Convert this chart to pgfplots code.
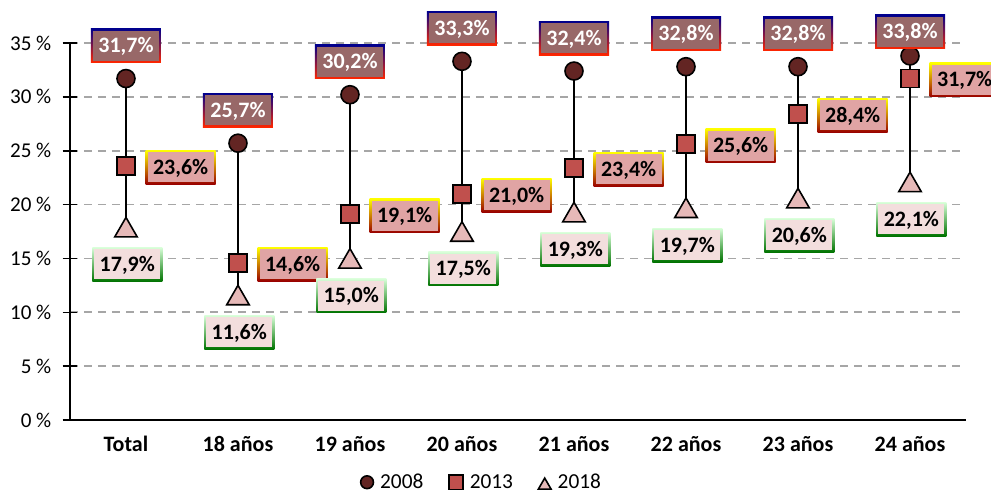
\documentclass[border=0pt]{standalone}
\usepackage{pgfplots}
\pgfplotsset{compat=1.18}
\usepackage{pgfplotstable}
\usepackage{fontspec}
\setmainfont{Carlito}

\definecolor{c08}{RGB}{99,37,35}
\definecolor{c13}{RGB}{192,80,77}
\definecolor{c18}{RGB}{230,185,184}
\definecolor{f08}{RGB}{152,104,104}
\definecolor{f13}{RGB}{224,164,164}
\definecolor{f18}{RGB}{243,222,221}
\definecolor{gridgray}{RGB}{166,166,166}

% label box: shaded frame (top, bottom colour), inner fill comes from the text box
\tikzset{labelbox/.style 2 args={
  inner sep=1.5pt, top color=#1, bottom color=#2, draw=none,
  font=\fontsize{16.5}{18}\selectfont\bfseries}}
\newcommand\lbl[2]{{\setlength\fboxsep{0pt}\colorbox{#1}{\makebox[49.5pt]{\rule[-6pt]{0pt}{22.5pt}#2\%}}}}

% x, values and labels per year; d08 = lift of the 2008 label (pt)
\pgfplotstableread{
x y08 l08 d08   y13 l13  y18 l18
0 31.7 31,7 24.75 23.6 23,6 17.9 17,9
1 25.7 25,7 24.75 14.6 14,6 11.6 11,6
2 30.2 30,2 24.75 19.1 19,1 15.0 15,0
3 33.3 33,3 24.75 21.0 21,0 17.5 17,5
4 32.4 32,4 24.75 23.4 23,4 19.3 19,3
5 32.8 32,8 24.75 25.6 25,6 19.7 19,7
6 32.8 32,8 24.75 28.4 28,4 20.6 20,6
7 33.8 33,8 18.0  31.7 31,7 22.1 22,1
}\data

\begin{document}
\begin{tikzpicture}
\begin{axis}[
  scale only axis,
  width=672pt, height=282.75pt,
  xmin=-0.5, xmax=7.5, ymin=0, ymax=35,
  axis x line*=bottom, axis y line*=left,
  axis line style={line width=1.2pt, -},
  xtick={0,...,7},
  xticklabels={Total, 18 años, 19 años, 20 años, 21 años, 22 años, 23 años, 24 años},
  xtick style={draw=none},
  ytick={0,5,...,35},
  yticklabel={\pgfmathprintnumber{\tick}~\%},
  tick align=center, major tick length=11pt,
  ytick style={line width=1.2pt, black},
  ymajorgrids,
  grid style={gridgray, line width=1.3pt, dash pattern=on 6pt off 4.5pt},
  clip=false,
  /pgf/number format/assume math mode=true,
  yticklabel style={font=\fontsize{15.8}{18}\selectfont, xshift=-5pt},
  xticklabel style={font=\fontsize{16.5}{18}\selectfont\bfseries, yshift=-3pt},
  legend style={at={(0.46,-0.165)}, anchor=center, draw=none,
    font=\fontsize{16}{18}\selectfont,
    /tikz/every odd column/.append style={column sep=3pt},
    /tikz/every even column/.append style={column sep=17pt}},
  legend columns=3,
]
% high-low lines
\addplot[black, line width=1.5pt, forget plot, unbounded coords=jump] coordinates {
  (0,31.7)(0,17.9)(0,nan)
  (1,25.7)(1,11.6)(1,nan)
  (2,30.2)(2,15.0)(2,nan)
  (3,33.3)(3,17.5)(3,nan)
  (4,32.4)(4,19.3)(4,nan)
  (5,32.8)(5,19.7)(5,nan)
  (6,32.8)(6,20.6)(6,nan)
  (7,33.8)(7,22.1)};

\addplot[only marks, mark=*, mark size=6.75pt,
  mark options={draw=black, fill=c08, line width=1.2pt},
  legend image post style={mark size=4.8pt},
  point meta=explicit symbolic,
  nodes near coords={\lbl{f08}{\pgfplotspointmeta}},
  nodes near coords align={anchor=center},
  visualization depends on={\thisrow{d08} \as \dy},
  every node near coord/.append style={labelbox={blue!55!black}{red!70!orange}, text=white, yshift=\dy pt}]
  table[x=x, y=y08, meta=l08] {\data};
\addlegendentry{2008}

\addplot[only marks, mark=square*, mark size=6.75pt,
  mark options={draw=black, fill=c13, line width=1.2pt},
  legend image post style={mark size=5.4pt},
  point meta=explicit symbolic,
  nodes near coords={\lbl{f13}{\pgfplotspointmeta}},
  nodes near coords align={anchor=center},
  every node near coord/.append style={labelbox={yellow}{red!60!black}, text=black, xshift=41pt, yshift=-1pt}]
  table[x=x, y=y13, meta=l13] {\data};
\addlegendentry{2013}

\addplot[only marks, mark=triangle*, mark size=9.75pt,
  mark options={draw=black, fill=c18, line width=1.2pt, yshift=-2.4pt},
  legend image post style={mark size=5.5pt},
  point meta=explicit symbolic,
  nodes near coords={\lbl{f18}{\pgfplotspointmeta}},
  nodes near coords align={anchor=center},
  every node near coord/.append style={labelbox={green!15!white}{green!45!black}, text=black, xshift=1pt, yshift=-25.5pt}]
  table[x=x, y=y18, meta=l18] {\data};
\addlegendentry{2018}

\coordinate (bbsw) at (rel axis cs:-0.0781,-0.191);
\coordinate (bbne) at (rel axis cs:1.0279,1.1141);
\end{axis}
\pgfresetboundingbox
\path[use as bounding box] (bbsw) rectangle (bbne);
\end{tikzpicture}
\end{document}
